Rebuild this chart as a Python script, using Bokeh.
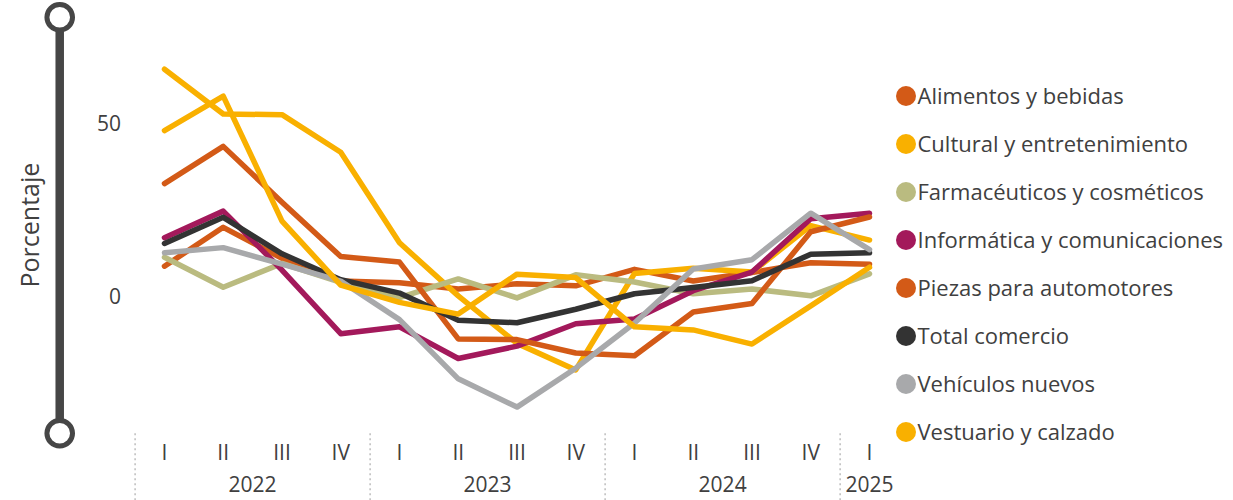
import math
from bokeh.plotting import figure
from bokeh.models import FactorRange, Range1d, FixedTicker, Legend, LegendItem, CategoricalAxis, Title
from bokeh.embed import file_html
from bokeh.resources import INLINE

# ---------------- data ----------------
years = ["2022"] * 4 + ["2023"] * 4 + ["2024"] * 4 + ["2025"]
quarters = ["I", "II", "III", "IV"] * 3 + ["I"]

series_names = [
    "Alimentos y bebidas",
    "Cultural y entretenimiento",
    "Farmacéuticos y cosméticos",
    "Informática y comunicaciones",
    "Piezas para automotores",
    "Total comercio",
    "Vehículos nuevos",
    "Vestuario y calzado",
]
alimentos = [8.5, 19.8, 10.8, 4.2, 3.7, 1.9, 3.4, 2.8, 7.6, 4.2, 6.7, 9.5, 9.1]
cultural = [65.7, 52.7, 52.5, 41.6, 15.3, -0.1, -13.9, -21.6, 6.4, 7.9, 6.8, 20.3, 16.1]
farmaceuticos = [11.1, 2.4, 9.3, 3.8, -0.6, 4.8, -0.7, 6.0, 3.9, 0.5, 1.9, -0.1, 6.3]
informatica = [16.8, 24.5, 7.4, -11.1, -9.1, -18.3, -14.7, -8.2, -6.8, 1.4, 6.8, 22.3, 23.9]
piezas = [32.5, 43.3, 27.1, 11.3, 9.7, -12.6, -12.8, -16.7, -17.5, -4.8, -2.3, 18.5, 22.8]
total = [15.1, 22.7, 12.1, 4.6, 0.7, -7.2, -7.9, -4.0, 0.5, 2.3, 4.3, 12.0, 12.4]
vehiculos = [12.4, 13.9, 9.1, 4.2, -7.0, -24.2, -32.4, -21.1, -8.0, 7.7, 10.4, 23.9, 13.3]
vestuario = [47.9, 57.9, 21.6, 3.0, -2.0, -5.4, 6.2, 5.2, -9.1, -10.0, -14.1, -3.0, 8.2]
series_values = [alimentos, cultural, farmaceuticos, informatica, piezas, total, vehiculos, vestuario]
series_colors = ["#D35A17", "#F9B000", "#BABB80", "#A3195B", "#D35A17", "#333333", "#A8A9AB", "#F9B000"]
y_ticks = [0, 50]
y_title = "Porcentaje"

# ---------------- layout constants (pixels) ----------------
FONT = "Open Sans"
TXT = "#404040"
W, H = 1233, 500
CAT_W = 58.75            # pixel width of one quarter
FIRST_EDGE = 134.6       # pixel column where the first quarter begins
N_SPARE = 4              # empty slots to the right (room for the legend)
FL = 42                  # frame left (title panel on its left)
PX_PER_UNIT = 3.444
ZERO_Y = 295.0           # pixel row of y = 0
AXIS_MIN, AXIS_MAX = -40, 80.8   # extent of the decorated y axis bar
YEAR_AXIS_PX = 470       # pixel row of the (invisible) year axis

factors = list(zip(years, quarters))
spare = [("", " " * (i + 1)) for i in range(N_SPARE)]
pad = (FIRST_EDGE - FL) / CAT_W
frame_w = (len(factors) + N_SPARE + 2 * pad) * CAT_W

p = figure(
    width=W, height=H,
    x_range=FactorRange(*(factors + spare), group_padding=0, factor_padding=0, subgroup_padding=0,
                        range_padding=pad, range_padding_units="absolute"),
    y_range=Range1d(-(H - ZERO_Y) / PX_PER_UNIT, ZERO_Y / PX_PER_UNIT),
    toolbar_location=None, output_backend="svg",
    min_border_left=FL, min_border_right=int(round(W - FL - frame_w)),
    min_border_top=0, min_border_bottom=0,
)
p.outline_line_color = None
p.xgrid.grid_line_color = None
p.ygrid.grid_line_color = None
p.background_fill_color = "white"
p.border_fill_color = "white"

p.add_layout(Title(text=y_title, align="left", offset=H - 287, standoff=-6,
                   text_font=FONT, text_font_size="25px", text_font_style="normal",
                   text_color=TXT), "left")

# decorated y axis bar with end circles
bar_x = -1.283
p.segment(x0=[bar_x], y0=[AXIS_MIN], x1=[bar_x], y1=[AXIS_MAX], line_color="#464646", line_width=8.5)
p.scatter(x=[bar_x, bar_x], y=[AXIS_MAX, AXIS_MIN], marker="circle", size=25.6,
          fill_color="white", line_color="#464646", line_width=5)

# dotted separators between years
group_starts = [i for i in range(len(years)) if i == 0 or years[i] != years[i - 1]]
p.segment(x0=group_starts, y0=[AXIS_MIN] * len(group_starts), x1=group_starts,
          y1=[-(H - ZERO_Y) / PX_PER_UNIT] * len(group_starts),
          line_color="#bdbdbd", line_width=1.5, line_dash="2 3")

items = []
for name, vals, col in zip(series_names, series_values, series_colors):
    p.line(x=factors, y=vals, line_color=col, line_width=5.5, line_join="round", line_cap="round")
    # legend swatch only (no visible point in the plot)
    r = p.ellipse(x=[factors[0]], y=[math.nan], width=20, height=20,
                  width_units="screen", height_units="screen", fill_color=col, line_color=None)
    items.append(LegendItem(label=name, renderers=[r]))

legend = Legend(
    items=items, location=(892.5 - FL, 45.5),
    glyph_width=25, glyph_height=47, spacing=1, padding=0, margin=0, label_standoff=0,
    label_text_font=FONT, label_text_font_size="22px", label_text_color=TXT,
    border_line_color=None, background_fill_alpha=0,
)
p.add_layout(legend)

yax = p.yaxis[0]
yax.fixed_location = 0
yax.ticker = FixedTicker(ticks=y_ticks)
yax.axis_line_color = None
yax.major_tick_line_color = None
yax.minor_tick_line_color = None
yax.major_tick_out = 0
yax.major_label_standoff = 14
yax.major_label_text_font = FONT
yax.major_label_text_font_size = "21px"
yax.major_label_text_color = TXT


def style_x(ax):
    ax.axis_line_color = None
    ax.major_tick_line_color = None
    ax.minor_tick_line_color = None
    ax.major_tick_out = 0
    ax.major_tick_in = 0
    ax.major_label_standoff = 5
    ax.major_label_text_font = FONT
    ax.major_label_text_font_size = "21px"
    ax.major_label_text_color = TXT
    ax.group_text_font = FONT
    ax.group_text_font_size = "21px"
    ax.group_text_font_style = "normal"
    ax.group_text_color = TXT
    ax.separator_line_color = None


# quarters
xq = p.xaxis[0]
style_x(xq)
xq.fixed_location = AXIS_MIN
xq.group_text_color = None
# years
xy = CategoricalAxis()
style_x(xy)
xy.fixed_location = (ZERO_Y - YEAR_AXIS_PX) / PX_PER_UNIT
xy.major_label_text_color = None
p.add_layout(xy, "below")

open("out.html", "w").write(file_html(p, INLINE))
